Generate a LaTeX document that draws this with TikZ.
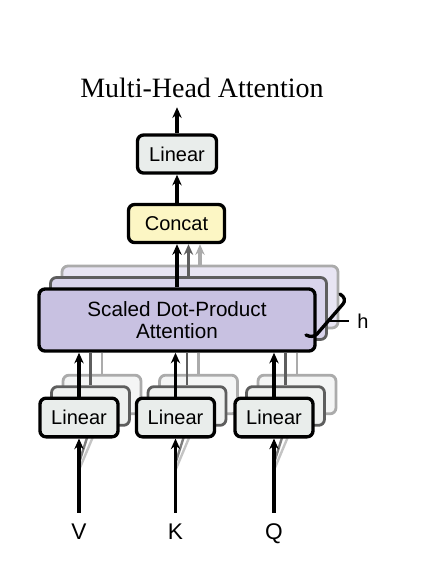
\documentclass[tikz,border=0pt]{standalone}
\usepackage{fontspec}
\setmainfont{Liberation Serif}
\setsansfont{Liberation Sans}
\usetikzlibrary{arrows.meta}
\definecolor{linfill}{HTML}{E9EDEB}
\definecolor{linfillB}{HTML}{EFF1F0}
\definecolor{linfillC}{HTML}{F4F5F5}
\definecolor{concatfill}{HTML}{FCF6C4}
\definecolor{attfill}{HTML}{C8C1E1}
\definecolor{attfillB}{HTML}{D9D4EC}
\definecolor{attfillC}{HTML}{E8E5F3}
\definecolor{greyB}{HTML}{5E5E5E}
\definecolor{greyC}{HTML}{ABABAB}
\begin{document}
\begin{tikzpicture}[x=0.75pt,y=-0.75pt,
  box/.style={draw=black, line width=2.5pt, rounded corners=4.5pt, inner sep=0pt,
    font=\sffamily\fontsize{15}{18}\selectfont, align=center},
  linbox/.style={box, fill=linfill, minimum width=58.5pt, minimum height=29pt},
  linboxB/.style={linbox, draw=greyB, fill=linfillB, line width=2.1pt},
  linboxC/.style={linbox, draw=greyC, fill=linfillC, line width=2.1pt},
  attbox/.style={box, fill=attfill, minimum width=207pt, minimum height=46.5pt,
    font=\sffamily\fontsize{15.5}{16.5}\selectfont},
  attboxB/.style={attbox, draw=greyB, fill=attfillB, line width=2.1pt},
  attboxC/.style={attbox, draw=greyC, fill=attfillC, line width=2.1pt},
  concatbox/.style={box, fill=concatfill, minimum width=72pt, minimum height=28.5pt},
  arr/.style={line width=2.5pt, -{Stealth[length=8pt,width=7pt]}},
  arrB/.style={arr, draw=greyB},
  arrC/.style={arr, draw=greyC},
  cpline/.style={line width=2.2pt},
  lbl/.style={font=\sffamily\fontsize{17}{20}\selectfont, inner sep=0pt,
    text height=12.2pt, text depth=0pt, outer ysep=7.8pt},
]
\useasboundingbox (0,0) rectangle (440,579);

% title
\node[font=\fontsize{21}{25}\selectfont, inner sep=0pt, outer ysep=7.5pt, anchor=base]
  (title) at (202,97) {Multi-Head Attention};

% attention copies
\node[attboxC] (attC) at (200,297) {};
\node[attboxB] (attB) at (188.5,308.5) {};

% linear copies
\foreach \n/\x in {1/79,2/175.5,3/274}{
  \node[linboxC] (lin\n c) at (\x+23,394.5) {};
}
\foreach \n/\x in {1/79,2/175.5,3/274}{
  \node[linboxB] (lin\n b) at (\x+11.5,406) {};
}

% main attention box
\node[attbox] (att) at (177,320) {Scaled Dot-Product\\Attention};

% lines from copies to attention
\foreach \n in {1,2,3}{
  \draw[cpline, draw=greyC] (lin\n c.north) -- (lin\n c.north |- att.south);
  \draw[cpline, draw=greyB] (lin\n b.north) -- (lin\n b.north |- att.south);
}

% inputs
\node[lbl] (V) at (79,531.5) {V};
\node[lbl] (K) at (175.5,531.5) {K};
\node[lbl] (Q) at (274,531.5) {Q};

% shadow lines of the copies' inputs
\foreach \n/\x in {1/79,2/175.5,3/274}{
  \coordinate (s\n c) at (\x,470);
  \coordinate (s\n b) at (\x,463);
  \draw[line width=1.8pt, draw=greyC!70] (s\n c) -- (lin\n c.south);
  \draw[line width=1.8pt, draw=greyB!80] (s\n b) -- (lin\n b.south);
}

% main linear boxes
\node[linbox] (lin1) at (79,417.5) {Linear};
\node[linbox] (lin2) at (175.5,417.5) {Linear};
\node[linbox] (lin3) at (274,417.5) {Linear};

\draw[arr] (V) -- (lin1);
\draw[arr] (K) -- (lin2);
\draw[arr] (Q) -- (lin3);

\foreach \n in {1,2,3}{
  \draw[arr] (lin\n.north) -- (lin\n.north |- att.south);
}

% concat and top linear
\node[concatbox] (concat) at (176.5,223.5) {Concat};
\node[linbox, minimum width=59.25pt, minimum height=28.5pt] (lintop) at (177,154) {Linear};

\draw[arr] (att.north) -- (att.north |- concat.south);
\draw[arrB] (attB.north) -- (attB.north |- concat.south);
\draw[arrC] (attC.north) -- (attC.north |- concat.south);
\draw[arr] (concat.north -| lintop.south) -- (lintop.south);
\draw[arr] (lintop.north) -- (lintop.north |- title.south);

% h bracket
\draw[line width=2.5pt, line cap=round]
  (340,294) .. controls (345,297) and (345.5,301) .. (343,304)
  -- (317,334) .. controls (314,337) and (310,337) .. (306,335);
\coordinate (tick) at (329,321);
\node[font=\sffamily\fontsize{15}{18}\selectfont, inner sep=0pt, outer xsep=6pt] (h) at (363,321) {h};
\draw[line width=1.6pt] (tick) -- (h);
\end{tikzpicture}
\end{document}
